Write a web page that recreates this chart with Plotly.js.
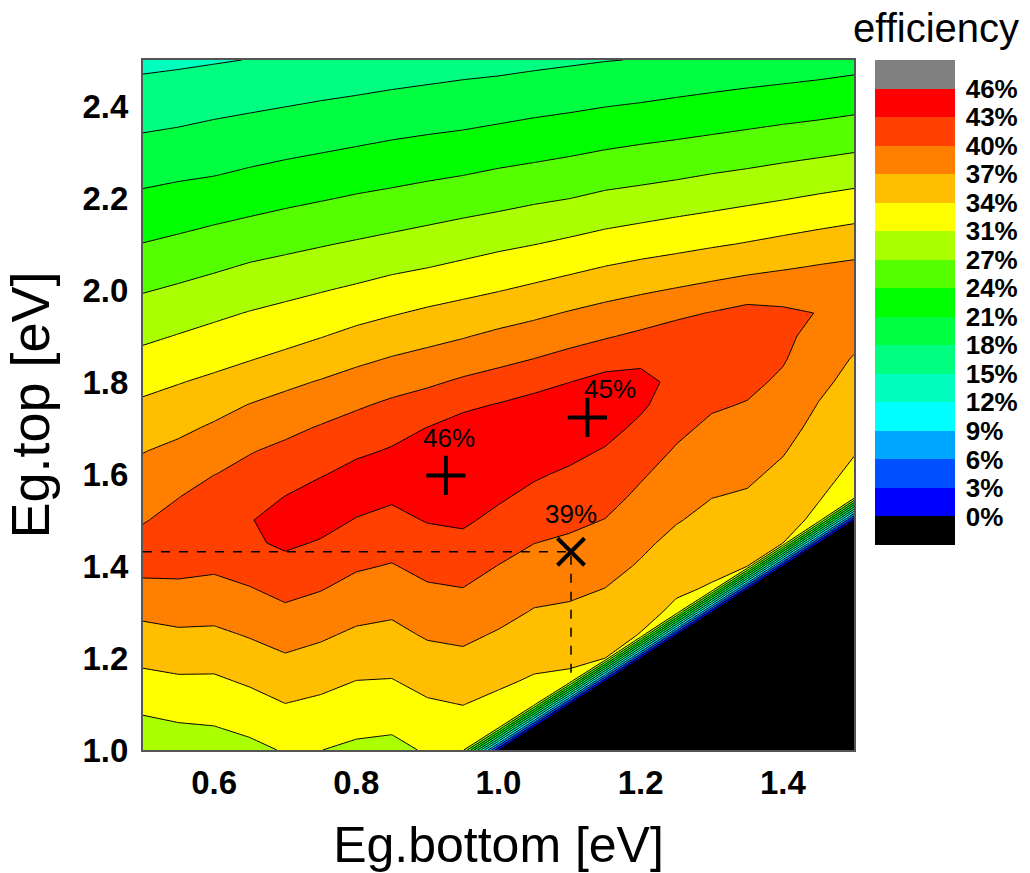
<!DOCTYPE html>
<html>
<head>
<meta charset="utf-8">
<script src="https://cdn.plot.ly/plotly-3.0.1.min.js"></script>
<style>
html,body{margin:0;padding:0;background:#fff;}
#chart{width:1030px;height:873px;}
</style>
</head>
<body>
<div id="chart"></div>
<script>
// Grid of the simulation (eV)
const egBottom = [0.50,0.55,0.60,0.65,0.70,0.75,0.80,0.85,0.90,0.95,1.00,1.05,1.10,1.15,1.20,1.25,1.30,1.35,1.40,1.45,1.50];
const egTop = [1.00,1.05,1.10,1.15,1.20,1.25,1.30,1.35,1.40,1.45,1.50,1.55,1.60,1.65,1.70,1.75,1.80,1.85,1.90,1.95,2.00,2.05,2.10,2.15,2.20,2.25,2.30,2.35,2.40,2.45,2.50];

// Efficiency (%) along Eg.top for each Eg.bottom column (0 where Eg.top <= Eg.bottom)
const eff_b050 = [28.4,29.9,31.4,32.9,34.4,35.9,37.4,39.0,40.8,41.1,39.6,38.6,37.7,36.7,35.5,34.2,32.9,31.5,30.1,28.8,27.4,26.0,24.6,23.3,22.0,20.7,19.4,18.2,17.0,15.8,14.6];
const eff_b055 = [28.9,30.4,31.8,33.3,34.8,36.3,37.8,39.3,40.6,41.7,41.1,39.8,38.7,37.5,36.2,34.9,33.6,32.2,30.8,29.4,28.0,26.6,25.1,23.8,22.4,21.1,19.8,18.5,17.3,16.1,14.8];
const eff_b060 = [29.2,30.6,32.0,33.3,34.7,36.2,37.7,39.1,40.3,41.6,42.3,41.4,39.8,38.5,37.2,35.8,34.3,32.9,31.5,30.1,28.7,27.2,25.7,24.3,22.8,21.4,20.2,18.9,17.7,16.4,15.1];
const eff_b065 = [29.9,31.3,32.7,34.1,35.6,37.0,38.4,39.7,41.1,42.5,42.8,41.7,40.7,39.7,38.3,36.9,35.2,33.6,32.2,30.8,29.3,27.9,26.4,24.8,23.4,21.9,20.6,19.3,18.0,16.7,15.4];
const eff_b070 = [30.9,32.3,33.7,35.1,36.5,37.9,39.3,40.7,42.1,43.4,43.9,43.0,41.7,40.5,39.2,37.7,36.2,34.4,32.8,31.4,29.9,28.4,26.9,25.4,23.8,22.4,21.0,19.7,18.35,17.1,15.7];
const eff_b075 = [30.7,32.0,33.2,34.5,35.9,37.2,38.6,40.0,41.4,42.7,43.9,44.3,42.7,41.4,40.1,38.6,37.0,35.3,33.6,32.0,30.5,28.9,27.4,25.9,24.3,22.8,21.4,20.0,18.7,17.4,16.0];
const eff_b080 = [30.1,31.3,32.5,33.7,35.0,36.3,37.6,38.9,40.2,41.5,42.8,43.9,43.9,42.4,41.0,39.5,37.9,36.2,34.5,32.8,31.1,29.5,27.9,26.3,24.8,23.3,21.8,20.4,19.0,17.7,16.3];
const eff_b085 = [29.8,31.1,32.3,33.6,34.8,36.0,37.2,38.5,39.7,40.9,42.2,43.3,44.3,43.2,41.9,40.4,38.7,37.0,35.3,33.5,31.8,30.1,28.4,26.8,25.2,23.7,22.2,20.8,19.4,18.0,16.6];
const eff_b090 = [31.0,32.2,33.4,34.6,35.8,37.1,38.3,39.5,40.7,41.9,43.1,44.5,45.5,44.5,43.0,41.2,39.4,37.7,35.9,34.2,32.4,30.6,28.9,27.3,25.7,24.1,22.6,21.1,19.7,18.3,16.9];
const eff_b095 = [31.4,32.6,33.8,35.0,36.2,37.4,38.6,39.8,41.0,42.2,43.4,44.6,45.7,45.1,44.0,42.4,40.3,38.4,36.6,34.8,33.0,31.2,29.5,27.8,26.2,24.5,23.0,21.4,20.0,18.6,17.2];
const eff_b100 = [0,31.9,33.0,34.2,35.4,36.5,37.7,38.8,39.8,41.0,42.2,43.3,44.3,44.8,44.2,43.1,41.1,39.1,37.4,35.5,33.6,31.8,30.1,28.3,26.6,25.0,23.4,21.8,20.3,18.8,17.5];
const eff_b105 = [0,0,32.3,33.4,34.5,35.6,36.6,37.7,38.8,39.9,41.1,42.2,43.3,44.2,44.5,43.9,42.0,39.9,38.1,36.2,34.3,32.4,30.6,28.9,27.1,25.4,23.8,22.2,20.7,19.2,17.7];
const eff_b110 = [0,0,0,33.2,34.2,35.3,36.3,37.4,38.4,39.4,40.5,41.5,42.5,43.7,44.8,44.6,42.9,40.8,38.8,37.0,35.0,33.1,31.2,29.4,27.55,25.9,24.2,22.6,21.0,19.5,18.0];
const eff_b115 = [0,0,0,0,33.9,34.9,35.8,36.75,37.8,38.8,39.8,40.8,41.7,42.7,43.9,44.6,43.9,41.7,39.6,37.7,35.8,33.8,31.9,30.0,28.2,26.4,24.7,23.0,21.4,19.8,18.3];
const eff_b120 = [0,0,0,0,0,33.6,34.6,35.5,36.5,37.4,38.3,39.3,40.2,41.2,42.3,43.4,43.7,42.4,40.4,38.4,36.4,34.4,32.4,30.5,28.6,26.8,25.1,23.4,21.7,20.1,18.5];
const eff_b125 = [0,0,0,0,0,0,33.2,34.1,35.1,36.0,37.0,37.8,38.7,39.6,40.5,41.4,42.3,42.5,41.1,39.3,37.0,34.9,32.9,31.0,29.1,27.2,25.5,23.7,22.1,20.4,18.8];
const eff_b130 = [0,0,0,0,0,0,0,33.5,34.3,35.1,36.0,36.85,37.7,38.5,39.3,40.2,41.1,41.9,42.0,40.0,37.6,35.5,33.4,31.5,29.5,27.7,25.9,24.1,22.4,20.8,19.1];
const eff_b135 = [0,0,0,0,0,0,0,0,34.0,34.8,35.6,36.5,37.3,38.1,38.9,39.7,40.5,41.1,41.4,40.8,38.3,36.0,33.9,32.0,30.0,28.1,26.3,24.5,22.8,21.1,19.4];
const eff_b140 = [0,0,0,0,0,0,0,0,0,33.8,34.6,35.4,36.2,37.0,37.8,38.6,39.4,40.1,40.5,40.3,38.7,36.5,34.5,32.4,30.5,28.6,26.7,24.9,23.1,21.4,19.7];
const eff_b145 = [0,0,0,0,0,0,0,0,0,0,33.2,33.9,34.6,35.3,36.0,36.7,37.4,38.2,38.9,39.8,38.5,37.0,35.0,33.0,31.0,29.1,27.1,25.2,23.5,21.7,20.0];
const eff_b150 = [0,0,0,0,0,0,0,0,0,0,0,32.5,33.2,33.9,34.6,35.3,36.0,36.6,37.6,38.2,38.2,37.4,35.5,33.5,31.5,29.5,27.55,25.7,23.8,22.1,20.3];

const effColumns = [eff_b050,eff_b055,eff_b060,eff_b065,eff_b070,eff_b075,eff_b080,eff_b085,eff_b090,eff_b095,
  eff_b100,eff_b105,eff_b110,eff_b115,eff_b120,eff_b125,eff_b130,eff_b135,eff_b140,eff_b145,eff_b150];

// Contour levels (efficiency %) and their labels
const levelMax = 46;
const levelCount = 15;
const levelLabels = ['0%','3%','6%','9%','12%','15%','18%','21%','24%','27%','31%','34%','37%','40%','43%','46%'];
// Band colours from below 0% up to above 46%
const bandColors = ['#000000','#0000FF','#0050FF','#00A5FF','#00FFFF','#00FFBF','#00FF80','#00FF40','#00FF00',
  '#55FF00','#AAFF00','#FFFF00','#FFBF00','#FF8000','#FF4000','#FF0000','#808080'];

// Marked points
const optimumX = [0.926, 1.125];
const optimumY = [1.597, 1.723];
const optimumLabels = ['46%', '45%'];
const optimumLabelY = [1.679, 1.784];
const optimumLabelX = [0.930, 1.157];
const chosenX = [1.102];
const chosenY = [1.431];
const chosenLabel = ['39%'];
const chosenLabelY = [1.514];
const guideX = [0.5, 1.102, 1.102];
const guideY = [1.431, 1.431, 1.155];

const step = levelMax / levelCount;
const levels = levelLabels.map((_, i) => i * step);
const contourScale = bandColors.map((c, i) => [i / (bandColors.length - 1), c]);
const barScale = [];
bandColors.forEach((c, i) => {
  barScale.push([i / bandColors.length, c]);
  barScale.push([(i + 1) / bandColors.length, c]);
});

const FONT = 'Liberation Sans, Arial, sans-serif';

const traces = [
  {
    type: 'contour',
    x: egBottom, y: egTop, z: effColumns, transpose: true,
    autocontour: false,
    contours: {start: 0, end: levelMax, size: step, coloring: 'fill', showlines: true},
    line: {color: '#000', width: 1, smoothing: 0},
    colorscale: contourScale,
    showscale: false,
    hoverinfo: 'skip'
  },
  {
    type: 'scatter', mode: 'lines', x: guideX, y: guideY,
    line: {color: '#000', width: 1.5, dash: 'dash'},
    showlegend: false, hoverinfo: 'skip'
  },
  {
    type: 'scatter', mode: 'markers', x: optimumX, y: optimumY,
    marker: {symbol: 'cross-thin', size: 28, line: {color: '#000', width: 4}},
    showlegend: false, hoverinfo: 'skip'
  },
  {
    type: 'scatter', mode: 'markers', x: chosenX, y: chosenY,
    marker: {symbol: 'x-thin', size: 27, line: {color: '#000', width: 4}},
    showlegend: false, hoverinfo: 'skip'
  },
  {
    type: 'scatter', mode: 'markers', x: [null], y: [null],
    showlegend: false, hoverinfo: 'skip',
    marker: {
      color: [0], colorscale: barScale, cmin: -step, cmax: levelMax + step, showscale: true,
      colorbar: {
        x: (882 - 143) / 718, xanchor: 'left', xpad: 0,
        y: 1, yanchor: 'top', ypad: 0,
        thickness: 80, thicknessmode: 'pixels',
        len: 485, lenmode: 'pixels',
        outlinewidth: 0,
        tickvals: levels, ticktext: levelLabels,
        ticks: 'outside', ticklen: 6, tickcolor: 'rgba(0,0,0,0)',
        tickfont: {family: FONT, size: 26, color: '#000', weight: 'bold'}
      }
    }
  }
];

const annotations = [];
optimumLabels.forEach((t, i) => annotations.push({
  x: optimumLabelX[i], y: optimumLabelY[i], xref: 'x', yref: 'y', text: t, showarrow: false,
  font: {family: FONT, size: 26, color: '#000'}
}));
chosenLabel.forEach((t, i) => annotations.push({
  x: chosenX[i], y: chosenLabelY[i], xref: 'x', yref: 'y', text: t, showarrow: false,
  font: {family: FONT, size: 26, color: '#000'}
}));
annotations.push({
  x: (944 - 143) / 718, y: (750 - 28) / 690, xref: 'paper', yref: 'paper', text: 'efficiency',
  showarrow: false, xanchor: 'center', yanchor: 'middle',
  font: {family: FONT, size: 40, color: '#000'}
});

const layout = {
  width: 1030, height: 873,
  margin: {l: 143, r: 169, t: 60, b: 123},
  paper_bgcolor: '#fff', plot_bgcolor: '#fff',
  font: {family: FONT, color: '#000'},
  showlegend: false,
  xaxis: {
    range: [0.5, 1.5], tick0: 0, dtick: 0.2, tickformat: '.1f', ticks: '',
    showgrid: false, zeroline: false, showline: true, mirror: true, linecolor: '#555', linewidth: 2,
    tickfont: {family: FONT, size: 33, color: '#000', weight: 'bold'}, ticklabelstandoff: 2,
    title: {text: 'Eg.bottom [eV]', font: {family: FONT, size: 50, color: '#000'}, standoff: 34},
    automargin: false
  },
  yaxis: {
    range: [1.0, 2.5], tick0: 0, dtick: 0.2, tickformat: '.1f', ticks: '',
    showgrid: false, zeroline: false, showline: true, mirror: true, linecolor: '#555', linewidth: 2,
    tickfont: {family: FONT, size: 33, color: '#000', weight: 'bold'}, ticklabelstandoff: 6,
    title: {text: 'Eg.top [eV]', font: {family: FONT, size: 54, color: '#000'}, standoff: 19},
    automargin: false
  },
  annotations: annotations
};

Plotly.newPlot('chart', traces, layout, {displayModeBar: false, staticPlot: true});
</script>
</body>
</html>
